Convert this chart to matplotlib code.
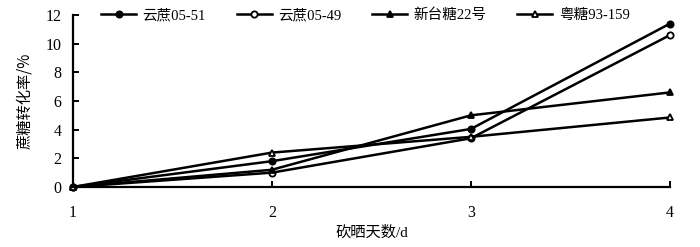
import matplotlib
matplotlib.use("Agg")
import matplotlib.pyplot as plt

plt.rcParams['font.family'] = ['Liberation Serif', 'Noto Sans CJK SC', 'DejaVu Sans']

days = [1, 2, 3, 4]
series_names = ["云蔗05-51", "云蔗05-49", "新台糖22号", "粤糖93-159"]
yz0551 = [0, 1.8, 4.05, 11.4]
yz0549 = [0, 1.0, 3.4, 10.6]
xtt22 = [0, 1.2, 5.0, 6.6]
yt93159 = [0, 2.4, 3.5, 4.85]
yticks = [0, 2, 4, 6, 8, 10, 12]

fig = plt.figure(figsize=(7, 2.47), dpi=100)
ax = fig.add_axes([0.104, 0.243, 0.853, 0.696])

styles = [
    dict(marker='o', mfc='black', ms=4.5),
    dict(marker='o', mfc='white', ms=4.5),
    dict(marker='^', mfc='black', ms=5),
    dict(marker='^', mfc='white', ms=5),
]
for vals, name, st in zip([yz0551, yz0549, xtt22, yt93159], series_names, styles):
    ax.plot(days, vals, color='black', lw=1.8, mec='black', mew=1.3,
            label=name, clip_on=False, **st)

ax.set_xlim(1, 4)
ax.set_ylim(0, 12)
ax.set_xticks(days)
ax.set_yticks(yticks)
for s in ['top', 'right']:
    ax.spines[s].set_visible(False)
for s in ['left', 'bottom']:
    ax.spines[s].set_linewidth(1.6)
ax.tick_params(direction='in', length=4, width=1.4, labelsize=11.5)
ax.tick_params(axis='x', pad=13)
ax.tick_params(axis='y', pad=8)

ax.set_xlabel("砍晒天数/d", fontsize=11, labelpad=3)
ax.set_ylabel("蔗糖转化率/%", fontsize=11, labelpad=9,
              family=['Noto Sans CJK SC', 'DejaVu Sans'])

leg = ax.legend(loc='center', bbox_to_anchor=(0.49, 1.0), ncol=4, frameon=False,
                handlelength=2.4, columnspacing=2.1, handletextpad=0.45,
                prop={'family': ['Liberation Serif', 'Noto Sans CJK SC'], 'size': 10.5})

fig.savefig("out.png", dpi=100)
